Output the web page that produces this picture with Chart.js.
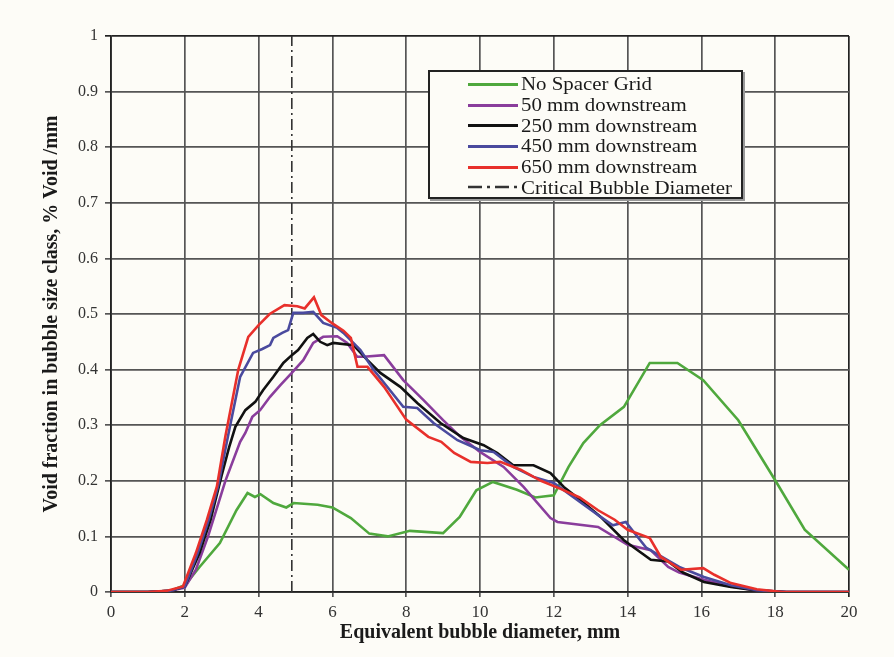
<!DOCTYPE html>
<html>
<head>
<meta charset="utf-8">
<script src="https://cdn.jsdelivr.net/npm/chart.js@4/dist/chart.umd.min.js"></script>
<style>
html,body{margin:0;padding:0;background:#fdfcf7;}
#wrap{position:relative;width:894px;height:657px;}
#legend{position:absolute;left:428px;top:70px;width:315px;height:129px;border:2px solid #222;background:#fdfcf7;box-shadow:2px 2px 0 #999;box-sizing:border-box;padding-top:2px;font-family:"Liberation Serif","Times New Roman",serif;font-size:18px;color:#1a1a1a;}
.row{display:flex;align-items:center;height:20.8px;white-space:nowrap;}
.sw{width:50px;margin-left:38px;margin-right:3px;height:0;border-top:3px solid;flex:none;}
.sw svg{display:block;margin-top:-4px}
.tx{display:inline-block;transform:scaleX(1.16);transform-origin:left center;}
</style>
</head>
<body>
<div id="wrap">
<canvas id="c" width="894" height="657"></canvas>
<div id="legend"></div>
</div>
<script>
// ---- data ----
const seriesNames = ["No Spacer Grid","50 mm downstream","250 mm downstream","450 mm downstream","650 mm downstream","Critical Bubble Diameter"];

const noSpacerX = [0,1,1.6,2.0,2.4,2.95,3.4,3.7,3.9,4.05,4.4,4.75,4.95,5.6,6.0,6.5,7.0,7.5,8.1,9.0,9.45,9.9,10.35,11.0,11.5,12.0,12.4,12.8,13.25,13.9,14.6,15.35,16.05,17.0,18.0,18.8,20];
const noSpacerY = [0,0,0.002,0.012,0.045,0.088,0.147,0.178,0.171,0.176,0.16,0.152,0.16,0.157,0.152,0.133,0.105,0.1,0.11,0.106,0.135,0.183,0.198,0.184,0.17,0.174,0.225,0.268,0.3,0.333,0.412,0.412,0.381,0.309,0.201,0.112,0.04];

const d50X = [0,1,1.6,2.0,2.3,2.63,3.1,3.5,3.64,3.83,4.04,4.31,4.59,4.9,5.21,5.48,5.75,6.13,6.4,6.67,6.85,7.4,7.92,8.47,9.0,9.47,10.0,10.64,11.18,11.91,12.1,13.2,14.0,14.63,15.1,15.4,16.07,16.8,17.5,18.3,20];
const d50Y = [0,0,0.002,0.008,0.04,0.1,0.2,0.27,0.286,0.315,0.327,0.351,0.372,0.394,0.417,0.448,0.459,0.46,0.448,0.423,0.423,0.426,0.381,0.345,0.309,0.279,0.252,0.225,0.189,0.133,0.126,0.117,0.085,0.075,0.045,0.035,0.022,0.01,0.003,0,0];

const d250X = [0,1,1.6,2.0,2.4,2.7,3.0,3.2,3.37,3.64,3.91,4.12,4.4,4.67,4.9,5.07,5.32,5.48,5.67,5.86,6.02,6.57,6.95,7.3,7.84,8.3,8.93,9.55,10.1,10.47,10.9,11.45,11.91,12.27,12.73,13.27,13.9,14.63,15.1,15.5,16.07,16.8,17.5,18.3,20];
const d250Y = [0,0,0.002,0.01,0.07,0.13,0.21,0.26,0.297,0.327,0.342,0.363,0.387,0.412,0.426,0.435,0.457,0.464,0.45,0.444,0.448,0.444,0.417,0.394,0.369,0.34,0.304,0.277,0.264,0.25,0.228,0.228,0.214,0.189,0.165,0.135,0.093,0.058,0.055,0.035,0.018,0.009,0.003,0,0];

const d450X = [0,1,1.6,2.0,2.35,2.65,2.9,3.2,3.5,3.85,4.1,4.31,4.4,4.64,4.8,4.94,5.21,5.48,5.75,6.13,6.3,6.76,7.11,7.92,8.3,8.74,9.39,10.01,10.37,10.9,11.45,12.0,13.27,13.6,13.95,14.5,15.4,16.07,16.8,17.5,18.3,20];
const d450Y = [0,0,0.002,0.01,0.07,0.13,0.19,0.29,0.387,0.43,0.437,0.444,0.457,0.466,0.471,0.502,0.502,0.504,0.484,0.475,0.466,0.435,0.4,0.333,0.331,0.304,0.273,0.255,0.252,0.225,0.207,0.196,0.135,0.12,0.126,0.08,0.045,0.027,0.012,0.003,0,0];

const d650X = [0,1,1.5,1.95,2.3,2.6,2.87,3.1,3.45,3.72,4.0,4.3,4.7,5.05,5.25,5.5,5.7,6.0,6.3,6.5,6.68,6.95,7.4,8.0,8.6,8.95,9.3,9.75,10.2,10.55,11.1,11.65,12.2,12.7,13.2,13.65,14.0,14.6,14.9,15.45,16.05,16.35,16.8,17.5,18.2,20];
const d650Y = [0,0,0.002,0.01,0.07,0.13,0.19,0.28,0.4,0.459,0.48,0.5,0.516,0.514,0.51,0.53,0.498,0.483,0.47,0.457,0.405,0.405,0.369,0.31,0.279,0.27,0.25,0.234,0.232,0.234,0.22,0.2,0.185,0.17,0.147,0.13,0.112,0.097,0.063,0.04,0.043,0.031,0.016,0.005,0,0];

const criticalX = [4.9,4.9];
const criticalY = [0,1];

const xTickValues = [0,2,4,6,8,10,12,14,16,18,20];
const yTickValues = [0,0.1,0.2,0.3,0.4,0.5,0.6,0.7,0.8,0.9,1];
const yTickLabels = ["0","0.1","0.2","0.3","0.4","0.5","0.6","0.7","0.8","0.9","1"];

// ---- styles ----
const colors = ["#4fa83d","#8a3d9c","#111111","#4a4a9e","#e8302b","#333333"];
const pts = (xs, ys) => xs.map((x, i) => ({x: x, y: ys[i]}));

const seriesData = [
  pts(noSpacerX, noSpacerY), pts(d50X, d50Y), pts(d250X, d250Y),
  pts(d450X, d450Y), pts(d650X, d650Y), pts(criticalX, criticalY)
];
const drawOrder = [5, 4, 3, 2, 1, 6];

const datasets = seriesData.map((d, i) => ({
  label: seriesNames[i],
  data: d,
  borderColor: colors[i],
  backgroundColor: colors[i],
  borderWidth: i === 5 ? 1.6 : 2.6,
  borderDash: i === 5 ? [11, 4, 2, 4] : [],
  pointRadius: 0,
  tension: 0,
  fill: false,
  order: drawOrder[i]
}));

const serif = "'Liberation Serif','Times New Roman',serif";

new Chart(document.getElementById('c'), {
  type: 'line',
  data: { datasets: datasets },
  options: {
    responsive: false,
    animation: false,
    layout: { padding: { left: 0, right: 45, top: 36, bottom: 0 } },
    plugins: { legend: { display: false }, tooltip: { enabled: false } },
    scales: {
      x: {
        type: 'linear', min: 0, max: 20,
        afterBuildTicks: s => { s.ticks = xTickValues.map(v => ({value: v})); },
        afterFit: s => { s.height = 65; },
        ticks: { color: '#333', font: { family: serif, size: 17 }, padding: 5, maxRotation: 0 },
        grid: {
          color: c => (c.tick && (c.tick.value === 20)) ? '#222' : '#555',
          lineWidth: 1.7, tickLength: 5
        },
        border: { color: '#222', width: 1.8 },
        title: { display: true, text: 'Equivalent bubble diameter, mm', color: '#1a1a1a',
                 font: { family: serif, size: 20, weight: 'bold' }, padding: { top: 0, bottom: 12 } }
      },
      y: {
        type: 'linear', min: 0, max: 1,
        afterBuildTicks: s => { s.ticks = yTickValues.map(v => ({value: v})); },
        afterFit: s => { s.width = 111; },
        ticks: { color: '#333', font: { family: serif, size: 16 }, padding: 7,
                 callback: (v) => { const k = yTickValues.findIndex(t => Math.abs(t - v) < 1e-9); return k >= 0 ? yTickLabels[k] : ''; } },
        grid: {
          color: c => (c.tick && (c.tick.value === 1)) ? '#222' : '#555',
          lineWidth: 1.7, tickLength: 6
        },
        border: { color: '#222', width: 1.8 },
        title: { display: true, text: 'Void fraction in bubble size class, % Void /mm', color: '#1a1a1a',
                 font: { family: serif, size: 20, weight: 'bold' }, padding: { top: 40, bottom: 0 } }
      }
    }
  }
});

// ---- legend (HTML) ----
const leg = document.getElementById('legend');
seriesNames.forEach((name, i) => {
  const row = document.createElement('div');
  row.className = 'row';
  const sw = document.createElement('div');
  sw.className = 'sw';
  if (i === 5) {
    sw.style.borderTop = 'none';
    sw.innerHTML = '<svg width="50" height="6"><line x1="0" y1="3" x2="50" y2="3" stroke="#333" stroke-width="2.5" stroke-dasharray="14 5 3 5"/></svg>';
  } else {
    sw.style.borderTopColor = colors[i];
  }
  const tx = document.createElement('span');
  tx.className = 'tx';
  tx.textContent = name;
  row.appendChild(sw);
  row.appendChild(tx);
  leg.appendChild(row);
});
</script>
</body>
</html>
